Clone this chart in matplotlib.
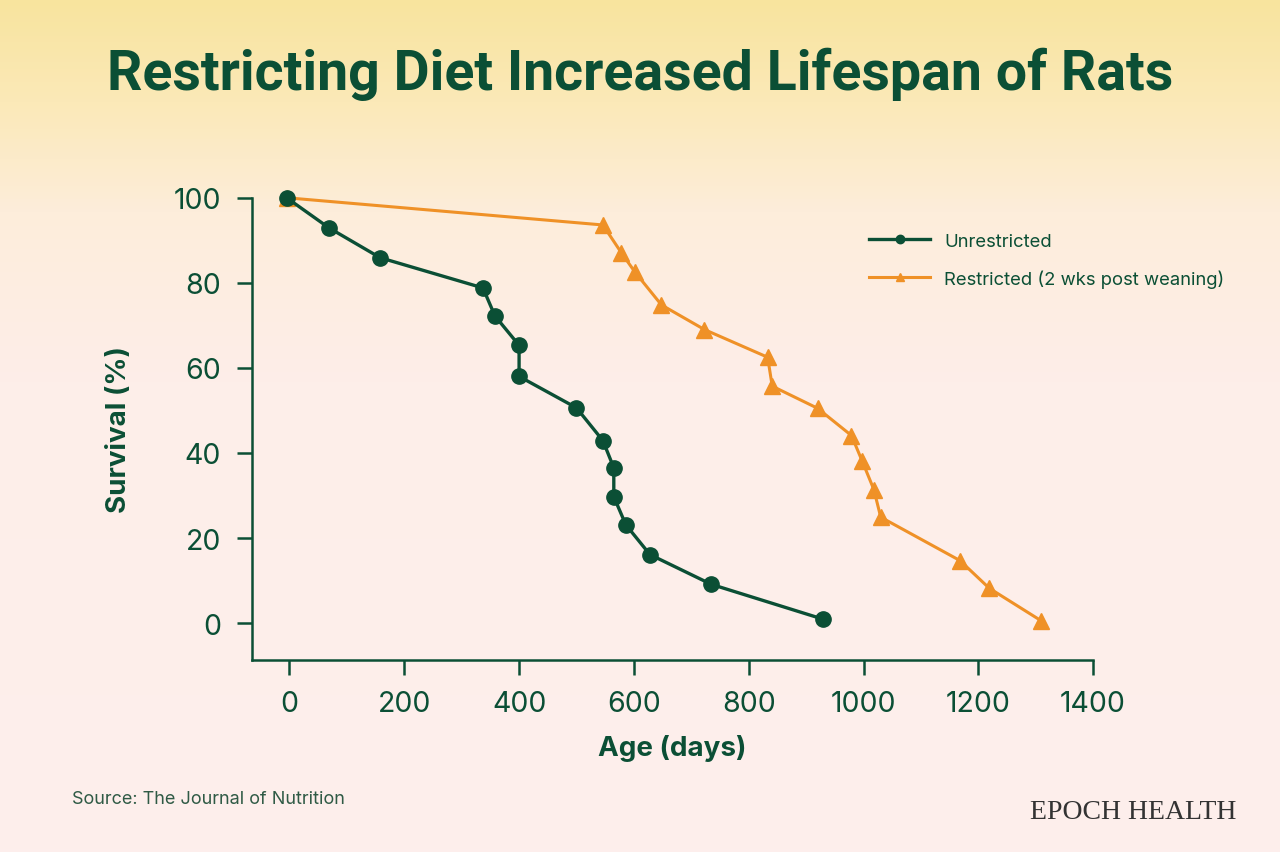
import numpy as np
import matplotlib.pyplot as plt
from matplotlib.colors import LinearSegmentedColormap

# values
unres_age = [-5, 69, 158, 337, 358, 400, 400, 500, 546, 565, 565, 586, 628, 735, 930]
unres_surv = [100, 92.9, 85.9, 78.8, 72.2, 65.3, 58.0, 50.6, 42.9, 36.5, 29.7, 23.1, 16.1, 9.1, 0.9]

res_age = [-5, 546, 578, 602, 648, 723, 833, 841, 920, 979, 998, 1018, 1030, 1168, 1219, 1310]
res_surv = [100, 93.6, 87.1, 82.5, 74.8, 69.0, 62.5, 55.7, 50.5, 44.1, 38.0, 31.4, 24.9, 14.7, 8.2, 0.5]

xticks = [0, 200, 400, 600, 800, 1000, 1200, 1400]
yticks = [0, 20, 40, 60, 80, 100]

green = "#0b4f35"
orange = "#ef9127"

fig = plt.figure(figsize=(12.8, 8.53), dpi=100)

# background gradient yellow -> pink
bg = fig.add_axes([0, 0, 1, 1], zorder=-10)
cmap = LinearSegmentedColormap.from_list(
    "bg", [(0, "#f8e49e"), (0.12, "#fbe9b8"), (0.25, "#fdeddb"), (0.45, "#fdeee9"), (1, "#fdeeec")])
grad = np.linspace(0, 1, 256).reshape(-1, 1)
bg.imshow(grad, aspect="auto", cmap=cmap, extent=[0, 1, 0, 1])
bg.axis("off")

ax = fig.add_axes([0.197, 0.225, 0.657, 0.542])
ax.patch.set_alpha(0)

ax.plot(unres_age, unres_surv, color=green, lw=2.4, marker="o", ms=11,
        label="Unrestricted", clip_on=False, zorder=3)
ax.plot(res_age, res_surv, color=orange, lw=2.2, marker="^", ms=11,
        label="Restricted (2 wks post weaning)", clip_on=False, zorder=2)

ax.set_xlim(-65, 1400)
ax.set_ylim(-8.7, 100)
ax.set_xticks(xticks)
ax.set_yticks(yticks)
for s in ["top", "right"]:
    ax.spines[s].set_visible(False)
for s in ["left", "bottom"]:
    ax.spines[s].set_color(green)
    ax.spines[s].set_linewidth(1.8)
ax.tick_params(colors=green, width=1.8, length=10.5, labelsize=20.5)
ax.tick_params(axis="x", pad=11)
ax.tick_params(axis="y", pad=12)
for lab in ax.get_xticklabels() + ax.get_yticklabels():
    lab.set_family("Inter")
    lab.set_fontweight("normal")

ax.set_xlabel("Age (days)", fontsize=20, fontweight="bold", color=green,
              family="Inter", labelpad=12)
ax.set_ylabel("Survival (%)", fontsize=20, fontweight="bold", color=green,
              family="Inter", labelpad=30)

leg = ax.legend(loc="upper right", bbox_to_anchor=(1.176, 0.96), frameon=False,
                prop={"family": "Inter", "size": 13.3}, handlelength=3.3,
                handletextpad=0.75, labelspacing=1.05, markerscale=0.55)
for t in leg.get_texts():
    t.set_color(green)

fig.text(0.5, 0.913, "Restricting Diet Increased Lifespan of Rats", ha="center",
         va="center", fontsize=40, fontweight="bold", color=green, family="Roboto")
fig.text(0.056, 0.063, "Source: The Journal of Nutrition", fontsize=13,
         color="#2f5a45", family="Inter", va="center")
fig.text(0.966, 0.048, "EPOCH HEALTH", fontsize=20, color="#333333",
         family="Liberation Serif", ha="right", va="center")

fig.savefig("out.png", dpi=100)
